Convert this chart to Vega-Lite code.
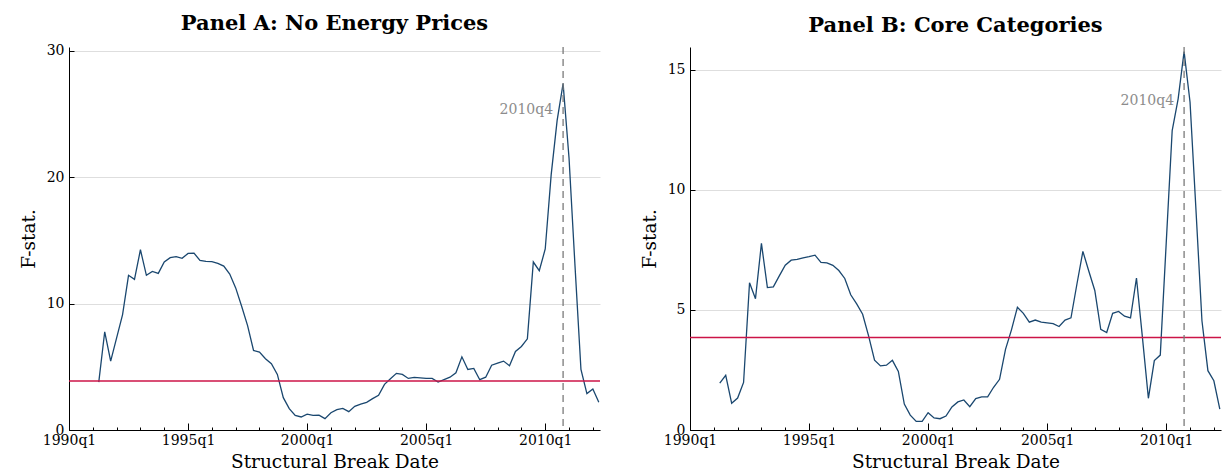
{
  "$schema": "https://vega.github.io/schema/vega-lite/v6.json",
  "padding": {"left": 19, "top": 12, "right": 4, "bottom": 0},
  "spacing": 38,
  "datasets": {
    "fstat": [
      {"quarter":"1991q2","t":5,"noEnergy":3.79,"core":1.95},
      {"quarter":"1991q3","t":6,"noEnergy":7.77,"core":2.28},
      {"quarter":"1991q4","t":7,"noEnergy":5.45,"core":1.11},
      {"quarter":"1992q1","t":8,"noEnergy":7.29,"core":1.33},
      {"quarter":"1992q2","t":9,"noEnergy":9.13,"core":1.98},
      {"quarter":"1992q3","t":10,"noEnergy":12.24,"core":6.13},
      {"quarter":"1992q4","t":11,"noEnergy":11.92,"core":5.47},
      {"quarter":"1993q1","t":12,"noEnergy":14.26,"core":7.77},
      {"quarter":"1993q2","t":13,"noEnergy":12.24,"core":5.93},
      {"quarter":"1993q3","t":14,"noEnergy":12.55,"core":5.96},
      {"quarter":"1993q4","t":15,"noEnergy":12.39,"core":6.42},
      {"quarter":"1994q1","t":16,"noEnergy":13.29,"core":6.86},
      {"quarter":"1994q2","t":17,"noEnergy":13.63,"core":7.07},
      {"quarter":"1994q3","t":18,"noEnergy":13.71,"core":7.11},
      {"quarter":"1994q4","t":19,"noEnergy":13.58,"core":7.17},
      {"quarter":"1995q1","t":20,"noEnergy":13.97,"core":7.22},
      {"quarter":"1995q2","t":21,"noEnergy":13.99,"core":7.28},
      {"quarter":"1995q3","t":22,"noEnergy":13.42,"core":6.98},
      {"quarter":"1995q4","t":23,"noEnergy":13.34,"core":6.96},
      {"quarter":"1996q1","t":24,"noEnergy":13.32,"core":6.86},
      {"quarter":"1996q2","t":25,"noEnergy":13.18,"core":6.64},
      {"quarter":"1996q3","t":26,"noEnergy":12.97,"core":6.31},
      {"quarter":"1996q4","t":27,"noEnergy":12.34,"core":5.63},
      {"quarter":"1997q1","t":28,"noEnergy":11.24,"core":5.25},
      {"quarter":"1997q2","t":29,"noEnergy":9.79,"core":4.82},
      {"quarter":"1997q3","t":30,"noEnergy":8.26,"core":3.92},
      {"quarter":"1997q4","t":31,"noEnergy":6.29,"core":2.91},
      {"quarter":"1998q1","t":32,"noEnergy":6.16,"core":2.67},
      {"quarter":"1998q2","t":33,"noEnergy":5.64,"core":2.70},
      {"quarter":"1998q3","t":34,"noEnergy":5.24,"core":2.90},
      {"quarter":"1998q4","t":35,"noEnergy":4.40,"core":2.44},
      {"quarter":"1999q1","t":36,"noEnergy":2.56,"core":1.08},
      {"quarter":"1999q2","t":37,"noEnergy":1.69,"core":0.62},
      {"quarter":"1999q3","t":38,"noEnergy":1.16,"core":0.36},
      {"quarter":"1999q4","t":39,"noEnergy":1.03,"core":0.36},
      {"quarter":"2000q1","t":40,"noEnergy":1.26,"core":0.72},
      {"quarter":"2000q2","t":41,"noEnergy":1.16,"core":0.50},
      {"quarter":"2000q3","t":42,"noEnergy":1.18,"core":0.47},
      {"quarter":"2000q4","t":43,"noEnergy":0.90,"core":0.58},
      {"quarter":"2001q1","t":44,"noEnergy":1.37,"core":0.96},
      {"quarter":"2001q2","t":45,"noEnergy":1.61,"core":1.17},
      {"quarter":"2001q3","t":46,"noEnergy":1.71,"core":1.25},
      {"quarter":"2001q4","t":47,"noEnergy":1.45,"core":0.97},
      {"quarter":"2002q1","t":48,"noEnergy":1.87,"core":1.31},
      {"quarter":"2002q2","t":49,"noEnergy":2.05,"core":1.38},
      {"quarter":"2002q3","t":50,"noEnergy":2.19,"core":1.38},
      {"quarter":"2002q4","t":51,"noEnergy":2.48,"core":1.78},
      {"quarter":"2003q1","t":52,"noEnergy":2.74,"core":2.11},
      {"quarter":"2003q2","t":53,"noEnergy":3.61,"core":3.36},
      {"quarter":"2003q3","t":54,"noEnergy":4.06,"core":4.17},
      {"quarter":"2003q4","t":55,"noEnergy":4.48,"core":5.11},
      {"quarter":"2004q1","t":56,"noEnergy":4.40,"core":4.86},
      {"quarter":"2004q2","t":57,"noEnergy":4.08,"core":4.49},
      {"quarter":"2004q3","t":58,"noEnergy":4.16,"core":4.58},
      {"quarter":"2004q4","t":59,"noEnergy":4.13,"core":4.49},
      {"quarter":"2005q1","t":60,"noEnergy":4.08,"core":4.46},
      {"quarter":"2005q2","t":61,"noEnergy":4.08,"core":4.43},
      {"quarter":"2005q3","t":62,"noEnergy":3.79,"core":4.31},
      {"quarter":"2005q4","t":63,"noEnergy":3.98,"core":4.58},
      {"quarter":"2006q1","t":64,"noEnergy":4.18,"core":4.67},
      {"quarter":"2006q2","t":65,"noEnergy":4.53,"core":6.08},
      {"quarter":"2006q3","t":66,"noEnergy":5.79,"core":7.44},
      {"quarter":"2006q4","t":67,"noEnergy":4.79,"core":6.61},
      {"quarter":"2007q1","t":68,"noEnergy":4.87,"core":5.81},
      {"quarter":"2007q2","t":69,"noEnergy":3.98,"core":4.19},
      {"quarter":"2007q3","t":70,"noEnergy":4.18,"core":4.06},
      {"quarter":"2007q4","t":71,"noEnergy":5.13,"core":4.86},
      {"quarter":"2008q1","t":72,"noEnergy":5.29,"core":4.94},
      {"quarter":"2008q2","t":73,"noEnergy":5.45,"core":4.74},
      {"quarter":"2008q3","t":74,"noEnergy":5.08,"core":4.67},
      {"quarter":"2008q4","t":75,"noEnergy":6.21,"core":6.33},
      {"quarter":"2009q1","t":76,"noEnergy":6.61,"core":3.86},
      {"quarter":"2009q2","t":77,"noEnergy":7.21,"core":1.32},
      {"quarter":"2009q3","t":78,"noEnergy":13.29,"core":2.89},
      {"quarter":"2009q4","t":79,"noEnergy":12.60,"core":3.12},
      {"quarter":"2010q1","t":80,"noEnergy":14.32,"core":7.80},
      {"quarter":"2010q2","t":81,"noEnergy":20.20,"core":12.47},
      {"quarter":"2010q3","t":82,"noEnergy":24.50,"core":13.79},
      {"quarter":"2010q4","t":83,"noEnergy":27.40,"core":15.76},
      {"quarter":"2011q1","t":84,"noEnergy":21.50,"core":13.65},
      {"quarter":"2011q2","t":85,"noEnergy":13.00,"core":9.14},
      {"quarter":"2011q3","t":86,"noEnergy":4.79,"core":4.55},
      {"quarter":"2011q4","t":87,"noEnergy":2.88,"core":2.47},
      {"quarter":"2012q1","t":88,"noEnergy":3.25,"core":2.05},
      {"quarter":"2012q2","t":89,"noEnergy":2.19,"core":0.87}
    ],
    "single": [{"note": "break"}]
  },
  "config": {
    "font": "DejaVu Serif",
    "view": {"stroke": null},
    "axis": {
      "labelFont": "DejaVu Serif",
      "titleFont": "DejaVu Serif",
      "labelFontSize": 14,
      "titleFontSize": 18.5,
      "titleFontWeight": "normal",
      "labelColor": "#000000",
      "titleColor": "#000000",
      "domainColor": "#000000",
      "tickColor": "#000000",
      "domainWidth": 1,
      "tickWidth": 1,
      "gridColor": "#dedede",
      "gridWidth": 1
    },
    "title": {"font": "DejaVu Serif", "fontSize": 21, "fontWeight": "bold", "color": "#000000", "offset": 10}
  },
  "hconcat": [
    {
      "title": "Panel A: No Energy Prices",
      "width": 531,
      "height": 383,
      "data": {"name": "fstat"},
      "resolve": {"axis": {"x": "independent"}},
      "layer": [
        {
          "mark": {"type": "line", "color": "#1a476f", "strokeWidth": 1.3},
          "encoding": {
            "x": {"field": "t", "type": "quantitative", "scale": {"domain": [0, 89.2], "nice": false, "zero": false},
              "axis": {"orient": "bottom", "values": [0, 20, 40, 60, 80], "labelExpr": "(1990 + datum.value/4) + 'q1'", "tickSize": -7, "labelPadding": 10, "grid": false, "labelFlush": false, "labelOverlap": false, "title": "Structural Break Date", "titlePadding": 5}},
            "y": {"field": "noEnergy", "type": "quantitative", "scale": {"domain": [0, 30.3], "nice": false},
              "axis": {"values": [0, 10, 20, 30], "title": "F-stat.", "tickSize": -5, "labelPadding": 10, "grid": true, "titlePadding": 8}}
          }
        },
        {
          "data": {"name": "single"},
          "mark": {"type": "rule", "color": "#cc1447", "strokeWidth": 1.5},
          "encoding": {"y": {"datum": 3.87, "type": "quantitative"}}
        },
        {
          "data": {"name": "single"},
          "mark": {"type": "rule", "color": "#7a7a7a", "strokeWidth": 1.3, "strokeDash": [7, 5]},
          "encoding": {"x": {"datum": 83, "type": "quantitative",
            "axis": {"orient": "bottom", "values": [0,4,8,12,16,20,24,28,32,36,40,44,48,52,56,60,64,68,72,76,80,84,88], "labels": false, "domain": false, "tickSize": -3, "grid": false, "title": null}}}
        },
        {
          "data": {"name": "single"},
          "mark": {"type": "text", "text": "2010q4", "color": "#8c8c8c", "fontSize": 14, "align": "right", "baseline": "middle", "dx": -10},
          "encoding": {"x": {"datum": 83, "type": "quantitative", "axis": null}, "y": {"datum": 25.3, "type": "quantitative"}}
        }
      ]
    },
    {
      "title": "Panel B: Core Categories",
      "width": 531,
      "height": 383,
      "data": {"name": "fstat"},
      "resolve": {"axis": {"x": "independent"}},
      "layer": [
        {
          "mark": {"type": "line", "color": "#1a476f", "strokeWidth": 1.3},
          "encoding": {
            "x": {"field": "t", "type": "quantitative", "scale": {"domain": [0, 89.2], "nice": false, "zero": false},
              "axis": {"orient": "bottom", "values": [0, 20, 40, 60, 80], "labelExpr": "(1990 + datum.value/4) + 'q1'", "tickSize": -7, "labelPadding": 10, "grid": false, "labelFlush": false, "labelOverlap": false, "title": "Structural Break Date", "titlePadding": 5}},
            "y": {"field": "core", "type": "quantitative", "scale": {"domain": [0, 15.95], "nice": false},
              "axis": {"values": [0, 5, 10, 15], "title": "F-stat.", "tickSize": -5, "labelPadding": 10, "grid": true, "titlePadding": 8}}
          }
        },
        {
          "data": {"name": "single"},
          "mark": {"type": "rule", "color": "#cc1447", "strokeWidth": 1.5},
          "encoding": {"y": {"datum": 3.85, "type": "quantitative"}}
        },
        {
          "data": {"name": "single"},
          "mark": {"type": "rule", "color": "#7a7a7a", "strokeWidth": 1.3, "strokeDash": [7, 5]},
          "encoding": {"x": {"datum": 83, "type": "quantitative",
            "axis": {"orient": "bottom", "values": [0,4,8,12,16,20,24,28,32,36,40,44,48,52,56,60,64,68,72,76,80,84,88], "labels": false, "domain": false, "tickSize": -3, "grid": false, "title": null}}}
        },
        {
          "data": {"name": "single"},
          "mark": {"type": "text", "text": "2010q4", "color": "#8c8c8c", "fontSize": 14, "align": "right", "baseline": "middle", "dx": -10},
          "encoding": {"x": {"datum": 83, "type": "quantitative", "axis": null}, "y": {"datum": 13.7, "type": "quantitative"}}
        }
      ]
    }
  ]
}
